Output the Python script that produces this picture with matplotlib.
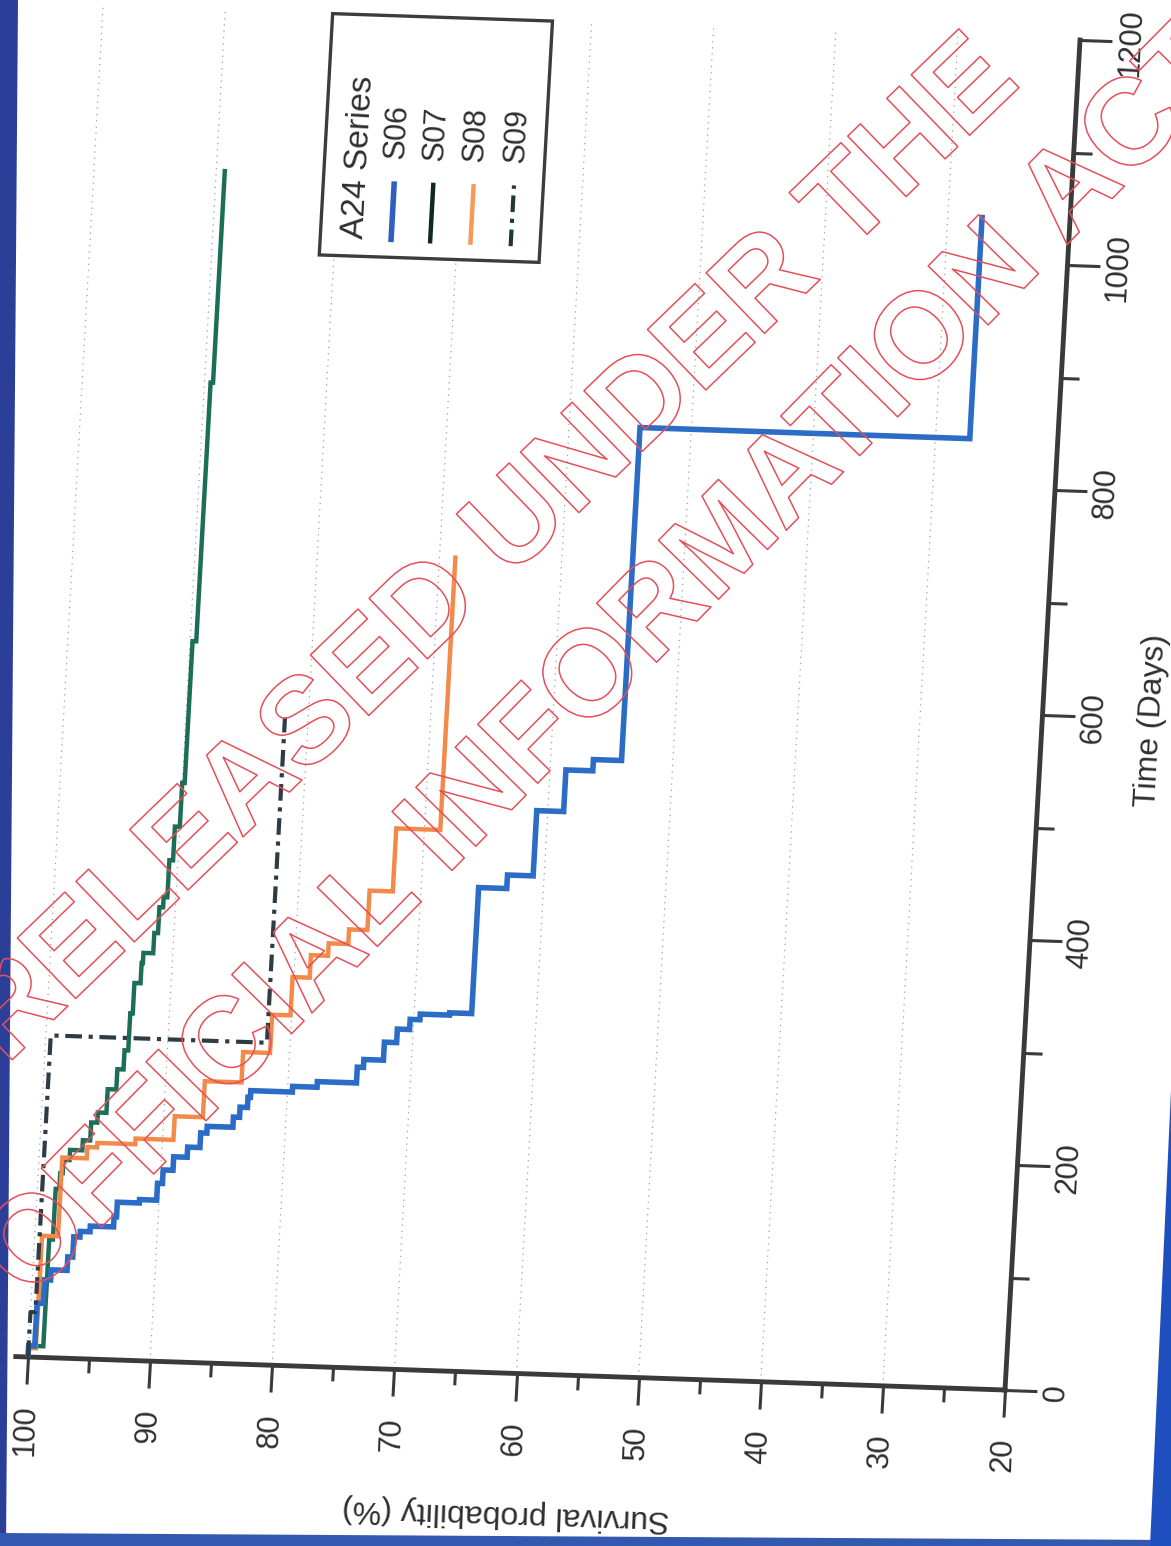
import numpy as np
import matplotlib
matplotlib.use("Agg")
import matplotlib.pyplot as plt
from matplotlib import patheffects
from matplotlib.patches import Rectangle, Polygon
from matplotlib.transforms import Affine2D
import mpl_toolkits.axisartist.floating_axes as floating_axes
from mpl_toolkits.axisartist.grid_finder import FixedLocator as GFLocator, DictFormatter

plt.rcParams['font.family'] = ['Liberation Sans', 'DejaVu Sans']

# ---------------- data ----------------
legend_title = "A24 Series"
series_names = ["S06", "S07", "S08", "S09"]

# Kaplan-Meier style steps: time of drop (days) and survival (%) after the drop
s06_time = [0, 10, 48, 69, 78, 90, 108, 113, 118, 127, 140, 143, 158, 170, 182, 191, 204, 210, 219, 228,
            237, 243, 248, 253, 267, 274, 290, 302, 311, 316, 318, 430, 442, 500, 537, 547, 843]
s06_surv = [100, 99.5, 99.0, 98.5, 97.2, 96.8, 96.3, 95.5, 93.6, 93.4, 91.6, 90.2, 89.8, 89.0, 87.9, 86.9, 86.4, 84.3, 83.8, 83.2,
            83.0, 79.6, 77.6, 74.4, 73.9, 72.3, 71.3, 70.3, 69.5, 67.1, 65.3, 63.0, 60.9, 58.7, 56.5, 54.2, 27.2]
s06_end = 1042

s07_time = [0, 10, 105, 150, 164, 176, 185, 194, 210, 219, 240, 258, 275, 308, 335, 353, 362, 380, 403, 412,
            445, 475, 514, 640, 870]
s07_surv = [100, 98.8, 98.5, 98.2, 98.0, 97.5, 96.5, 95.9, 95.4, 94.7, 94.0, 93.5, 93.2, 93.0, 92.5, 92.4, 91.6, 91.3, 91.0, 90.7,
            90.4, 90.0, 89.8, 89.5, 89.3]
s07_end = 1060

s08_time = [0, 8, 108, 178, 188, 192, 197, 218, 250, 277, 311, 345, 365, 376, 389, 424, 480]
s08_surv = [100, 99.4, 98.1, 96.1, 95.3, 92.2, 89.1, 86.8, 83.8, 81.6, 80.1, 78.7, 77.3, 75.7, 74.2, 72.3, 68.7]
s08_end = 724

s09_time = [0, 40, 286]
s09_surv = [100, 99.6, 81.9]
s09_end = 575

surv_ticks = [100, 90, 80, 70, 60, 50, 40, 30, 20]
surv_minor = [95, 85, 75, 65, 55, 45, 35, 25]
time_ticks = [0, 200, 400, 600, 800, 1000, 1200]
time_minor = [100, 300, 500, 700, 900, 1100]

x_label = "Survival probability (%)"
y_label = "Time (Days)"
watermark1 = "RELEASED UNDER THE"
watermark2 = "OFFICIAL INFORMATION ACT"

# ---------------- style ----------------
colors = {"S06": "#2a6cc6", "S07": "#1d6e57", "S08": "#f48a4a", "S09": "#2f3b45"}
legend_colors = {"S06": "#2f5fbf", "S07": "#10291f", "S08": "#f59a5a", "S09": "#1f3a36"}
widths = {"S06": 4.0, "S07": 3.2, "S08": 3.2, "S09": 3.0}
dashdot = (0, (4, 1.6, 1, 1.6))
styles = {"S06": "-", "S07": "-", "S08": "-", "S09": dashdot}
axis_color = "#3a3a3a"
text_color = "#2e2e2e"

W, H = 1171, 1546
fig = plt.figure(figsize=(W / 100, H / 100), dpi=100)
fig.patch.set_facecolor("white")

# the scanned page is slightly tilted: (survival, time) -> page pixels (y up)
page_tr = Affine2D(np.array([[-12.2125, 0.0625, 1249.25],
                             [0.4125, 1.125, 147.75],
                             [0.0, 0.0, 1.0]]))
extremes = (20, 101, 0, 1200)


def make_axes(s_locs, t_locs):
    gh = floating_axes.GridHelperCurveLinear(
        page_tr, extremes=extremes,
        grid_locator1=GFLocator(s_locs), grid_locator2=GFLocator(t_locs),
        tick_formatter1=DictFormatter({v: str(v) for v in s_locs}),
        tick_formatter2=DictFormatter({v: str(v) for v in t_locs}))
    a = fig.add_axes([0, 0, 1, 1], axes_class=floating_axes.FloatingAxes, grid_helper=gh)
    return a


ax = make_axes(surv_ticks, time_ticks)
aux = ax.get_aux_axes(page_tr)


def km_path(times, surv, end):
    t = np.repeat(np.append(np.asarray(times, float), end), 2)[1:-1]
    s = np.repeat(np.asarray(surv, float), 2)
    return s, t


data = {
    "S06": (s06_time, s06_surv, s06_end),
    "S07": (s07_time, s07_surv, s07_end),
    "S08": (s08_time, s08_surv, s08_end),
    "S09": (s09_time, s09_surv, s09_end),
}
for name in ["S07", "S08", "S06", "S09"]:
    t, s, e = data[name]
    xs, ys = km_path(t, s, e)
    aux.plot(xs, ys, color=colors[name], lw=widths[name], linestyle=styles[name],
             solid_joinstyle="miter", solid_capstyle="butt", zorder=3)

# ---------------- axes styling ----------------
ax.axis["right"].set_visible(False)
ax.axis["top"].set_visible(False)
sv = ax.axis["bottom"]   # time = 0 line  -> survival axis
tm = ax.axis["left"]     # survival = 20 line -> time axis

for art in (sv, tm):
    art.line.set_linewidth(3.5)
    art.line.set_color(axis_color)
    art.major_ticks.set_tick_out(True)
    art.major_ticks.set_color(axis_color)
    art.major_ticks.set_markeredgecolor(axis_color)
    art.major_ticks.set_markeredgewidth(2.2)
    art.major_ticklabels.set_fontsize(22)
    art.major_ticklabels.set_color(text_color)
    art.label.set_fontsize(23)
    art.label.set_color(text_color)

sv.set_ticklabel_direction("-")
sv.set_axislabel_direction("-")
sv.major_ticklabels.set_axis_direction("left")
sv.major_ticklabels.set_rotation(90)
sv.major_ticklabels.set_va("center")
sv.major_ticklabels.set_ha("right")
sv.major_ticks.set_ticksize(19.5)
sv.major_ticklabels.set_pad(15)
sv.label.set_text(x_label)
sv.label.set_rotation(180)
sv.label.set_va("bottom")
sv.label.set_ha("center")
sv.label.set_pad(19)

tm.set_ticklabel_direction("+")
tm.set_axislabel_direction("+")
tm.major_ticklabels.set_axis_direction("bottom")
tm.major_ticklabels.set_rotation(0)
tm.major_ticklabels.set_va("top")
tm.major_ticklabels.set_ha("center")
tm.major_ticks.set_ticksize(23)
tm.major_ticklabels.set_pad(3)
tm.label.set_text(y_label)
tm.label.set_rotation(0)
tm.label.set_va("top")
tm.label.set_ha("center")
tm.label.set_pad(26)

ax.grid(True, axis="x", color="#a0a0a0", linestyle=(0, (1, 4)), linewidth=0.9)

# minor ticks on an overlay with the same geometry
axm = make_axes(surv_minor, time_minor)
axm.patch.set_visible(False)
axm.axis["right"].set_visible(False)
axm.axis["top"].set_visible(False)
svm = axm.axis["bottom"]
tmm = axm.axis["left"]
svm.set_ticklabel_direction("-")
tmm.set_ticklabel_direction("+")
for art, size in ((svm, 10), (tmm, 13)):
    art.line.set_visible(False)
    art.major_ticklabels.set_visible(False)
    art.label.set_visible(False)
    art.major_ticks.set_tick_out(True)
    art.major_ticks.set_ticksize(size)
    art.major_ticks.set_color(axis_color)
    art.major_ticks.set_markeredgecolor(axis_color)
    art.major_ticks.set_markeredgewidth(2.2)

# ---------------- legend (drawn in the tilted data frame) ----------------
leg_s0, leg_s1, leg_t0, leg_t1 = 63.2, 81.2, 986.5, 1201.0
aux.add_patch(Rectangle((leg_s0, leg_t0), leg_s1 - leg_s0, leg_t1 - leg_t0, facecolor="white",
                        edgecolor="#3c3c3c", lw=2.4, zorder=5, clip_on=False))
text_rot = 86.8
aux.text(78.4, 1002.5, legend_title, rotation=text_rot, rotation_mode="anchor", ha="left", va="center",
         fontsize=24, color=text_color, zorder=6)
entry_s = [75.4, 72.2, 68.9, 65.6]
for name, es in zip(series_names, entry_s):
    aux.text(es, 1074, name, rotation=text_rot, rotation_mode="anchor", ha="left", va="center",
             fontsize=22, color=text_color, zorder=6)
    aux.plot([es, es], [1000, 1054], color=legend_colors[name], lw=widths[name], linestyle=styles[name],
             solid_capstyle="butt", zorder=6, clip_on=False)

ax.set_xlim(0, W)
ax.set_ylim(0, H)
axm.set_xlim(0, W)
axm.set_ylim(0, H)

# ---------------- watermark ----------------
pe = [patheffects.Stroke(linewidth=1.1, foreground="#e4505a")]
fig.text(492 / W, 1 - 552 / H, watermark1, rotation=44, rotation_mode="anchor", ha="center", va="center",
         fontsize=88, fontweight="bold", color=(1, 1, 1, 0), path_effects=pe, zorder=10)
fig.text(612 / W, 1 - 662 / H, watermark2, rotation=45.5, rotation_mode="anchor", ha="center", va="center",
         fontsize=88, fontweight="bold", color=(1, 1, 1, 0), path_effects=pe, zorder=10)


# ---------------- scan edge bands ----------------
def fpt(x, y):
    return (x / W, 1 - y / H)


fig.add_artist(Polygon([fpt(0, 0), fpt(18, 0), fpt(6, H), fpt(0, H)], closed=True,
                       transform=fig.transFigure, facecolor="#2c3f98", edgecolor="none"))
fig.add_artist(Polygon([fpt(0, 1533), fpt(W, 1540), fpt(W, H), fpt(0, H)], closed=True,
                       transform=fig.transFigure, facecolor="#3358b0", edgecolor="none"))
fig.add_artist(Polygon([fpt(W, 1090), fpt(W, H), fpt(1150, H)], closed=True,
                       transform=fig.transFigure, facecolor="#1f4fbf", edgecolor="none"))

fig.savefig("out.png", dpi=100, facecolor="white")
